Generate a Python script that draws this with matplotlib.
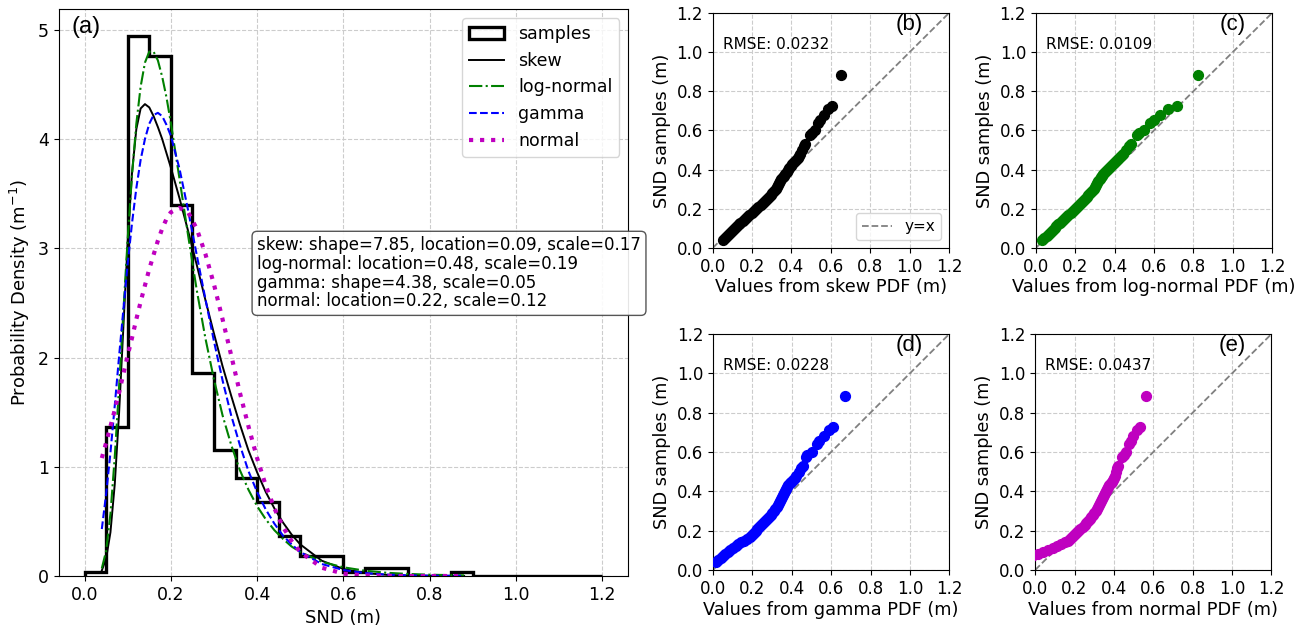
import matplotlib
matplotlib.use("Agg")
import matplotlib.pyplot as plt

# histogram of SND samples (density, bins of 0.05 m)
bin_edges = [0.0, 0.05, 0.10, 0.15, 0.20, 0.25, 0.30, 0.35, 0.40, 0.45, 0.50, 0.55,
             0.60, 0.65, 0.70, 0.75, 0.80, 0.85, 0.90, 0.95, 1.00, 1.05, 1.10, 1.15, 1.20]
density = [0.035, 1.36, 4.94, 4.76, 3.40, 1.86, 1.15, 0.90, 0.68, 0.37, 0.18, 0.18,
           0.035, 0.07, 0.07, 0.0, 0.0, 0.035, 0.0, 0.0, 0.0, 0.0, 0.0, 0.0]

# fitted PDFs
x_pdf = [0.04, 0.05, 0.06, 0.07, 0.08, 0.09, 0.10, 0.11, 0.12, 0.13, 0.14, 0.15, 0.16,
         0.17, 0.18, 0.19, 0.20, 0.22, 0.24, 0.26, 0.28, 0.30, 0.32, 0.34, 0.36, 0.38,
         0.40, 0.42, 0.44, 0.46, 0.48, 0.50, 0.55, 0.60, 0.65, 0.70, 0.75, 0.80, 0.88]
skew_pdf = [0.05, 0.16, 0.40, 0.84, 1.49, 2.28, 3.06, 3.69, 4.09, 4.28, 4.32, 4.29, 4.21,
            4.11, 4.00, 3.87, 3.74, 3.46, 3.16, 2.85, 2.53, 2.22, 1.92, 1.65, 1.39, 1.15,
            0.95, 0.77, 0.62, 0.49, 0.38, 0.29, 0.14, 0.065, 0.027, 0.011, 0.004, 0.001, 0.0]
logn_pdf = [0.07, 0.23, 0.57, 1.09, 1.73, 2.42, 3.09, 3.67, 4.14, 4.48, 4.70, 4.80, 4.80,
            4.72, 4.57, 4.38, 4.15, 3.64, 3.12, 2.62, 2.18, 1.80, 1.47, 1.20, 0.97, 0.79,
            0.64, 0.52, 0.42, 0.34, 0.27, 0.22, 0.13, 0.08, 0.049, 0.030, 0.019, 0.012, 0.006]
gamma_pdf = [0.43, 0.75, 1.13, 1.56, 2.01, 2.44, 2.86, 3.23, 3.55, 3.81, 4.00, 4.14, 4.22,
             4.24, 4.21, 4.13, 4.03, 3.73, 3.35, 2.94, 2.54, 2.15, 1.79, 1.47, 1.20, 0.96,
             0.77, 0.61, 0.48, 0.37, 0.29, 0.22, 0.11, 0.055, 0.027, 0.013, 0.006, 0.003, 0.001]
norm_pdf = [1.08, 1.22, 1.37, 1.52, 1.68, 1.85, 2.02, 2.18, 2.35, 2.51, 2.66, 2.81, 2.94,
            3.07, 3.18, 3.27, 3.33, 3.37, 3.33, 3.18, 2.95, 2.67, 2.35, 2.02, 1.68, 1.37,
            1.08, 0.83, 0.62, 0.45, 0.32, 0.22, 0.076, 0.022, 0.005, 0.001, 0.0, 0.0, 0.0]

params_text = ("skew: shape=7.85, location=0.09, scale=0.17\n"
               "log-normal: location=0.48, scale=0.19\n"
               "gamma: shape=4.38, scale=0.05\n"
               "normal: location=0.22, scale=0.12")

# QQ data: sorted samples and matching quantiles of each fitted PDF
snd = [0.04, 0.05, 0.06, 0.07, 0.08, 0.09, 0.10, 0.11, 0.12, 0.13,
       0.14, 0.15, 0.16, 0.17, 0.18, 0.19, 0.20, 0.21, 0.22, 0.23,
       0.24, 0.25, 0.26, 0.27, 0.28, 0.29, 0.30, 0.31, 0.32, 0.33,
       0.34, 0.35, 0.36, 0.37, 0.38, 0.39, 0.40, 0.41, 0.42, 0.43,
       0.44, 0.45, 0.46, 0.47, 0.48, 0.50, 0.52, 0.53, 0.575, 0.585,
       0.60, 0.64, 0.655, 0.68, 0.71, 0.727, 0.885]
q_skew = [0.052, 0.062, 0.071, 0.081, 0.091, 0.101, 0.111, 0.121, 0.131, 0.141,
          0.153, 0.164, 0.175, 0.186, 0.198, 0.209, 0.221, 0.232, 0.243, 0.254,
          0.265, 0.277, 0.286, 0.294, 0.303, 0.311, 0.320, 0.326, 0.332, 0.338,
          0.343, 0.349, 0.355, 0.361, 0.368, 0.375, 0.382, 0.389, 0.396, 0.404,
          0.413, 0.423, 0.432, 0.440, 0.445, 0.455, 0.464, 0.469, 0.495, 0.505,
          0.520, 0.536, 0.545, 0.563, 0.585, 0.608, 0.654]
q_logn = [0.034, 0.044, 0.055, 0.065, 0.075, 0.085, 0.095, 0.105, 0.115, 0.125,
          0.135, 0.145, 0.155, 0.166, 0.177, 0.188, 0.198, 0.209, 0.219, 0.229,
          0.238, 0.248, 0.258, 0.267, 0.277, 0.286, 0.294, 0.300, 0.306, 0.312,
          0.318, 0.324, 0.330, 0.336, 0.342, 0.351, 0.361, 0.371, 0.381, 0.391,
          0.401, 0.411, 0.421, 0.431, 0.441, 0.459, 0.474, 0.482, 0.512, 0.525,
          0.548, 0.580, 0.598, 0.632, 0.672, 0.718, 0.824]
q_gamma = [0.017, 0.027, 0.041, 0.052, 0.063, 0.075, 0.089, 0.102, 0.116, 0.129,
           0.143, 0.158, 0.172, 0.186, 0.196, 0.206, 0.216, 0.226, 0.236, 0.246,
           0.256, 0.265, 0.275, 0.285, 0.294, 0.302, 0.309, 0.316, 0.323, 0.329,
           0.334, 0.339, 0.344, 0.349, 0.354, 0.360, 0.366, 0.372, 0.378, 0.383,
           0.389, 0.398, 0.407, 0.417, 0.424, 0.436, 0.449, 0.455, 0.472, 0.480,
           0.503, 0.530, 0.540, 0.564, 0.588, 0.612, 0.671]
q_norm = [-0.16, -0.11, -0.06, -0.015, 0.015, 0.040, 0.065, 0.090, 0.110, 0.130,
          0.150, 0.165, 0.178, 0.189, 0.198, 0.207, 0.216, 0.230, 0.241, 0.251,
          0.260, 0.268, 0.277, 0.285, 0.292, 0.300, 0.307, 0.315, 0.321, 0.326,
          0.331, 0.336, 0.341, 0.346, 0.351, 0.356, 0.361, 0.366, 0.371, 0.377,
          0.384, 0.390, 0.396, 0.400, 0.404, 0.411, 0.418, 0.422, 0.443, 0.452,
          0.462, 0.478, 0.485, 0.497, 0.516, 0.534, 0.565]

qq_panels = [
    ("(b)", "skew", q_skew, "k", "0.0232"),
    ("(c)", "log-normal", q_logn, "g", "0.0109"),
    ("(d)", "gamma", q_gamma, "b", "0.0228"),
    ("(e)", "normal", q_norm, "m", "0.0437"),
]
qq_rects = [
    [0.5453, 0.6045, 0.1808, 0.3748],
    [0.7925, 0.6045, 0.1808, 0.3748],
    [0.5455, 0.0909, 0.1808, 0.3764],
    [0.7920, 0.0909, 0.1808, 0.3764],
]
ticks = [0.0, 0.2, 0.4, 0.6, 0.8, 1.0, 1.2]

fig = plt.figure(figsize=(13.07, 6.27), dpi=100)

# panel (a)
ax = fig.add_axes([0.0449, 0.0813, 0.4356, 0.9037])
ax.hist(bin_edges[:-1], bins=bin_edges, weights=density, histtype="step",
        color="k", lw=2.4, label="samples")
ax.plot(x_pdf, skew_pdf, "k-", lw=1.4, label="skew")
ax.plot(x_pdf, logn_pdf, "g-.", lw=1.5, label="log-normal")
ax.plot(x_pdf, gamma_pdf, "b--", lw=1.5, label="gamma")
ax.plot(x_pdf, norm_pdf, "m:", lw=3, label="normal")
ax.set_ylim(bottom=0)
ax.set_xticks(ticks)
ax.grid(True, ls="--", color="#cccccc")
ax.set_axisbelow(True)
ax.tick_params(labelsize=12.5)
ax.set_xlabel("SND (m)", fontsize=13)
ax.set_ylabel("Probability Density (m$^{-1}$)", fontsize=13)
ax.legend(loc="upper right", fontsize=12.5)
ax.text(0.40, 3.11, params_text, fontsize=12, va="top", ha="left", linespacing=1.05,
        bbox=dict(boxstyle="round,pad=0.3", fc="white", ec="#444444", alpha=0.9))
ax.text(0.022, 0.988, "(a)", transform=ax.transAxes, ha="left", va="top",
        fontsize=17, family="Liberation Sans")

# panels (b)-(e): QQ plots
for rect, (tag, name, q, col, rmse) in zip(qq_rects, qq_panels):
    qa = fig.add_axes(rect)
    qa.scatter(q, snd, s=50, color=col, zorder=3)
    qa.plot([0, 1.2], [0, 1.2], "--", color="gray", lw=1.3, label="y=x")
    qa.set_xlim(0, 1.2)
    qa.set_ylim(0, 1.2)
    qa.set_xticks(ticks)
    qa.set_yticks(ticks)
    qa.grid(True, ls="--", color="#cccccc")
    qa.set_axisbelow(True)
    qa.tick_params(labelsize=12)
    qa.set_xlabel(f"Values from {name} PDF (m)", fontsize=12.8, labelpad=2)
    qa.set_ylabel("SND samples (m)", fontsize=12.8)
    qa.text(0.05, 1.04, f"RMSE: {rmse}", fontsize=11, va="center")
    qa.text(0.89, 0.995, tag, transform=qa.transAxes, ha="right", va="top",
            fontsize=16, family="Liberation Sans")
    if tag == "(b)":
        qa.legend(loc="lower right", fontsize=11)

fig.savefig("out.png", dpi=100)
